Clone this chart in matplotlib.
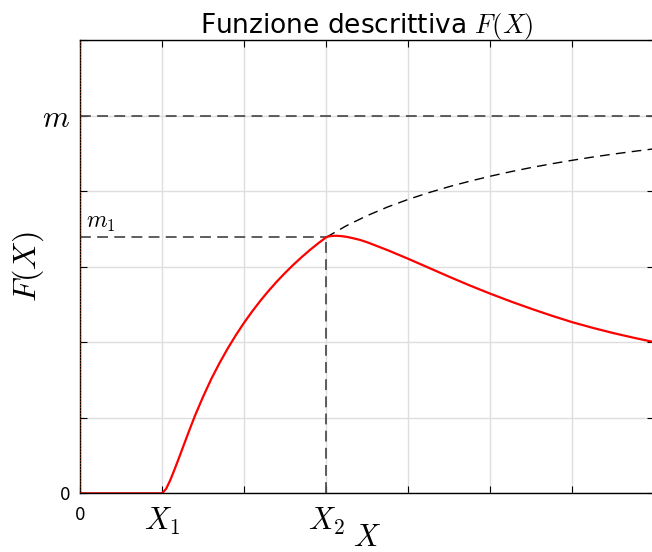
import matplotlib
matplotlib.use("Agg")
import matplotlib.pyplot as plt

plt.rcParams["mathtext.fontset"] = "cm"
plt.rcParams["font.family"] = ["DejaVu Sans"]

# Input amplitude X and describing function F(X), dead zone + saturation
x_red = [0.0, 1.0, 1.05, 1.1, 1.15, 1.2, 1.25, 1.3, 1.35, 1.4, 1.5, 1.6,
         1.7, 1.8, 1.9, 2.0, 2.1, 2.2, 2.3, 2.4, 2.5, 2.6, 2.7, 2.8, 2.9,
         3.0, 3.03, 3.07, 3.12, 3.18, 3.25, 3.33, 3.41, 3.5, 3.75, 4.0,
         4.25, 4.5, 4.75, 5.0, 5.25, 5.5, 5.75, 6.0, 6.25, 6.5, 6.75, 7.0]
f_red = [0.0, 0.0, 0.06, 0.175, 0.31, 0.452, 0.597, 0.742, 0.885, 1.025,
         1.28, 1.515, 1.725, 1.918, 2.096, 2.26, 2.412, 2.553, 2.684, 2.806,
         2.92, 3.027, 3.127, 3.221, 3.309, 3.391, 3.402, 3.409, 3.411, 3.407,
         3.397, 3.378, 3.357, 3.325, 3.22, 3.106, 2.987, 2.868, 2.753, 2.644,
         2.541, 2.444, 2.352, 2.266, 2.191, 2.122, 2.06, 2.002]

# Dead zone only (no saturation), continuation past X2
x_dz = [3.0, 3.25, 3.5, 3.75, 4.0, 4.25, 4.5, 4.75, 5.0, 5.25, 5.5, 5.75,
        6.0, 6.25, 6.5, 6.75, 7.0]
f_dz = [3.391, 3.546, 3.678, 3.793, 3.893, 3.982, 4.062, 4.134, 4.2, 4.26,
        4.315, 4.365, 4.411, 4.454, 4.493, 4.529, 4.563]

x_2 = 3.0
m = 5.0
m_1 = 3.391

xticks = [0, 1, 2, 3, 4, 5, 6, 7]
xticklabels = ["0", "$X_1$", "", "$X_2$", "", "", "", ""]
yticks = [0, 1, 2, 3, 4, 5, 6]
yticklabels = ["0", "", "", "", "", "$m$", ""]

fig = plt.figure(figsize=(6.52, 5.52), dpi=100)
ax = fig.add_axes([0.1227, 0.1063, 0.881, 0.8207])

ax.set_xlim(0, 7)
ax.set_ylim(0, 6)
ax.set_axisbelow(True)
ax.grid(color="#dedede", lw=1)

guide = dict(color="#505050", lw=1.3, dashes=(6, 3.5))
ax.plot([0, 7], [m, m], **guide)
ax.plot([0, x_2], [m_1, m_1], **guide)
ax.plot([x_2, x_2], [0, m_1], **guide)

ax.plot(x_dz, f_dz, color="k", lw=1.0, dashes=(7, 4.5))
ax.plot(x_red, f_red, color="red", lw=1.6)

# coloured origin lines over the spines
ax.axhline(0, color="#0072BD", lw=0.8, ls=":", alpha=0.6, zorder=5)
ax.axvline(0, color="#D95319", lw=0.8, ls=":", alpha=0.6, zorder=5)

ax.text(0.07, m_1 + 0.05, "$m_1$", fontsize=17, ha="left", va="bottom")

ax.set_xticks(xticks)
ax.set_xticklabels(xticklabels)
ax.set_yticks(yticks)
ax.set_yticklabels(yticklabels)
for lab in ax.get_xticklabels() + ax.get_yticklabels():
    lab.set_fontsize(22 if lab.get_text().startswith("$") else 12)
ax.tick_params(direction="in", top=True, right=True, length=5, width=0.8)
ax.tick_params(axis="x", pad=9)
ax.tick_params(axis="y", pad=7)

for side in ["top", "bottom", "left", "right"]:
    ax.spines[side].set_linewidth(1.0)

ax.set_title("Funzione descrittiva $F(X)$", fontsize=19, pad=5)
ax.set_xlabel("$X$", fontsize=22)
ax.xaxis.set_label_coords(0.5, -0.066)
ax.set_ylabel("$F(X)$", fontsize=23)
ax.yaxis.set_label_coords(-0.06, 0.5)

fig.savefig("out.png", dpi=100)
